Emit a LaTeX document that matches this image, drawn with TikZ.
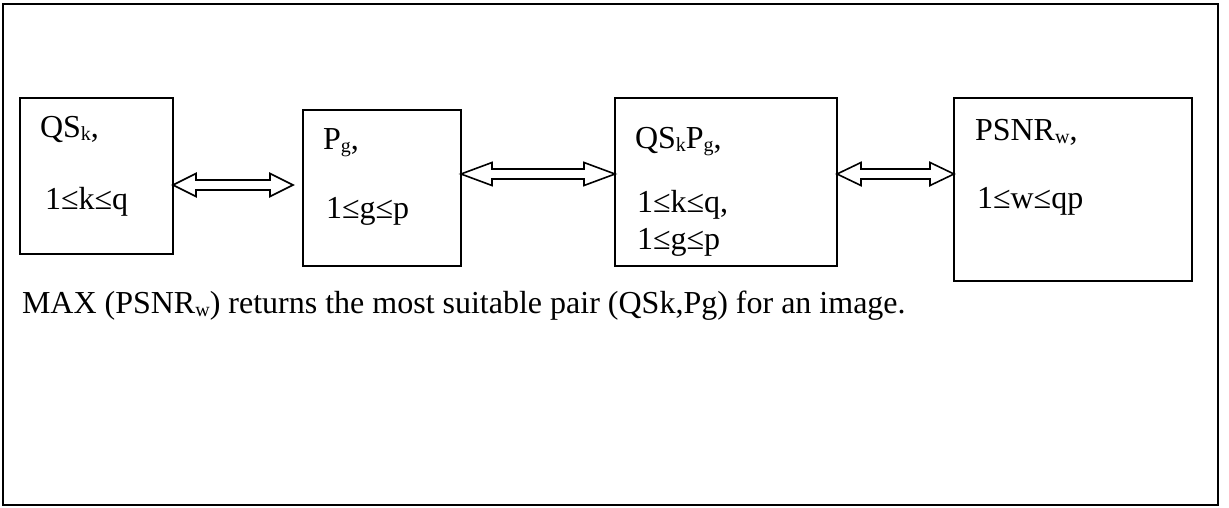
\documentclass[tikz,border=0pt]{standalone}
\usepackage{fontspec}
\setmainfont{Liberation Serif}
\usetikzlibrary{calc}
\newcommand\sbs[1]{\raisebox{-3pt}{\fontsize{20}{20}\selectfont #1}}
\newcommand\blockarrow[3]{%
  \draw[arrowline] (#1) -- ++(#3,11.5) -- ++(0,-6.5) -- ($(#2)+(-#3,5)$) -- ++(0,6.5) -- (#2)
    -- ++(-#3,-11.5) -- ++(0,6.5) -- ($(#1)+(#3,-5)$) -- ++(0,-6.5) -- cycle;}
\begin{document}
\begin{tikzpicture}[x=1pt,y=-1pt,
  box/.style={draw,line width=1.6pt,anchor=north west,inner sep=0pt,outer sep=0pt},
  lbl/.style={anchor=base west,inner sep=0pt,outer sep=0pt,font=\fontsize{32}{36}\selectfont},
  arrowline/.style={draw,line width=1.6pt,line join=miter}]
\useasboundingbox (0,0) rectangle (1229,507);
\draw[line width=1.6pt] (3,4) rectangle (1218,505);
% boxes
\node[box,minimum width=153pt,minimum height=156pt] (b1) at (20,98) {};
\node[box,minimum width=158pt,minimum height=156pt] (b2) at (303,110) {};
\node[box,minimum width=222pt,minimum height=168pt] (b3) at (615,98) {};
\node[box,minimum width=238pt,minimum height=183pt] (b4) at (954,98) {};
% labels
\node[lbl] (t1a) at (40,137) {QS\sbs{k},};
\node[lbl] (t1b) at (45,209) {1≤k≤q};
\node[lbl] (t2a) at (323,149) {P\sbs{g},};
\node[lbl] (t2b) at (326,218) {1≤g≤p};
\node[lbl] (t3a) at (635,148) {QS\sbs{k}P\sbs{g},};
\node[lbl] (t3b) at (637,212) {1≤k≤q,};
\node[lbl] (t3c) at (637,249) {1≤g≤p};
\node[lbl] (t4a) at (975,140) {PSNR\sbs{w},};
\node[lbl] (t4b) at (977,208) {1≤w≤qp};
\node[lbl] (cap) at (22,313) {MAX (PSNR\sbs{w}) returns the most suitable pair (QSk,Pg) for an image.};
% arrow end points
\coordinate (a1s) at (b1.east |- 0,185);
\coordinate (a1e) at (293,185);
\coordinate (a2s) at (b2.east |- 0,174);
\coordinate (a2e) at (b3.west |- 0,174);
\coordinate (a3s) at (b3.east |- 0,174);
\coordinate (a3e) at (b4.west |- 0,174);
\blockarrow{a1s}{a1e}{23}
\blockarrow{a2s}{a2e}{31}
\blockarrow{a3s}{a3e}{24}
\end{tikzpicture}
\end{document}
